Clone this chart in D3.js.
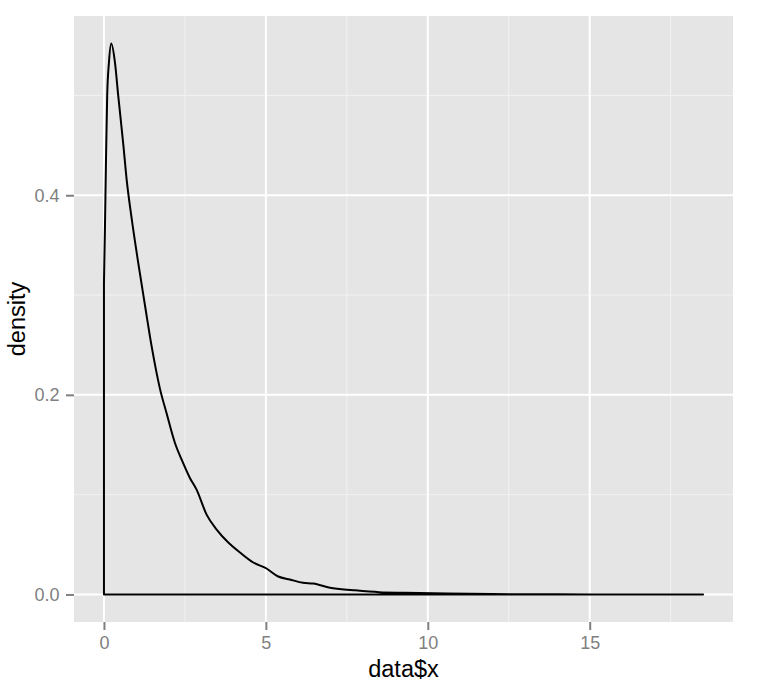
<!DOCTYPE html>
<html>
<head>
<meta charset="utf-8">
<script src="https://cdn.jsdelivr.net/npm/d3@7"></script>
<style>
  body { margin: 0; background: #fff; }
  svg text { font-family: "Liberation Sans", Arial, Helvetica, sans-serif; }
</style>
</head>
<body>
<div id="chart"></div>
<script>
// density estimate (x, density)
var densX = [0, 0.03, 0.062, 0.10, 0.154, 0.225, 0.34, 0.44, 0.6, 0.7, 0.85, 1.06, 1.27, 1.47,
  1.73, 1.93, 2.19, 2.4, 2.65, 2.86, 3.17, 3.48, 3.84, 4.2, 4.61, 5.02, 5.38, 5.74, 6.15, 6.46,
  6.98, 7.7, 8.5, 9.3, 10.6, 12, 14, 16, 18.5];
var densY = [0.312, 0.366, 0.433, 0.5, 0.533, 0.552, 0.533, 0.5, 0.45, 0.416, 0.378, 0.332, 0.289, 0.249,
  0.206, 0.182, 0.152, 0.135, 0.117, 0.105, 0.080, 0.065, 0.052, 0.042, 0.032, 0.026, 0.018, 0.015, 0.0117, 0.011,
  0.0067, 0.0043, 0.0023, 0.0017, 0.001, 0.0004, 0.0001, 0.00003, 0];

var xMajor = [0, 5, 10, 15];
var xMinor = [2.5, 7.5, 12.5, 17.5];
var yMajor = [0, 0.2, 0.4];
var yMinor = [0.1, 0.3, 0.5];

var W = 762, H = 688;
var margin = { left: 74, right: 29, top: 16, bottom: 66 };

var svg = d3.select('#chart').append('svg')
  .attr('width', W).attr('height', H);

var data = densX.map(function (x, i) { return { x: x, y: densY[i] }; });

// ggplot-style 5% expansion
var xExt = d3.extent(densX), yMax = d3.max(densY);
var xPad = (xExt[1] - xExt[0]) * 0.05, yPad = yMax * 0.05;

var x = d3.scaleLinear()
  .domain([xExt[0] - xPad, xExt[1] + xPad])
  .range([margin.left, W - margin.right]);
var y = d3.scaleLinear()
  .domain([0 - yPad, yMax + yPad])
  .range([H - margin.bottom, margin.top]);

var panel = svg.append('g');
panel.append('rect')
  .attr('x', margin.left).attr('y', margin.top)
  .attr('width', W - margin.left - margin.right)
  .attr('height', H - margin.top - margin.bottom)
  .attr('fill', '#e5e5e5');

function vlines(vals, col, w) {
  panel.selectAll(null).data(vals).enter().append('line')
    .attr('x1', function (d) { return x(d); }).attr('x2', function (d) { return x(d); })
    .attr('y1', margin.top).attr('y2', H - margin.bottom)
    .attr('stroke', col).attr('stroke-width', w);
}
function hlines(vals, col, w) {
  panel.selectAll(null).data(vals).enter().append('line')
    .attr('y1', function (d) { return y(d); }).attr('y2', function (d) { return y(d); })
    .attr('x1', margin.left).attr('x2', W - margin.right)
    .attr('stroke', col).attr('stroke-width', w);
}
vlines(xMinor, '#f2f2f2', 1);
hlines(yMinor, '#f2f2f2', 1);
vlines(xMajor, '#ffffff', 2);
hlines(yMajor, '#ffffff', 2);

// density outline (polygon, like geom_density)
var area = d3.area()
  .x(function (d) { return x(d.x); })
  .y0(y(0))
  .y1(function (d) { return y(d.y); })
  .curve(d3.curveMonotoneX);

svg.append('path')
  .datum(data)
  .attr('d', area)
  .attr('fill', 'none')
  .attr('stroke', '#000')
  .attr('stroke-width', 2)
  .attr('stroke-linejoin', 'round');

// axes
var xAxis = svg.append('g')
  .attr('transform', 'translate(0,' + (H - margin.bottom) + ')')
  .call(d3.axisBottom(x).tickValues(xMajor).tickSize(8).tickPadding(6).tickFormat(d3.format('d')));
var yAxis = svg.append('g')
  .attr('transform', 'translate(' + margin.left + ',0)')
  .call(d3.axisLeft(y).tickValues(yMajor).tickSize(8).tickPadding(6.5).tickFormat(d3.format('.1f')));

[xAxis, yAxis].forEach(function (g) {
  g.select('.domain').remove();
  g.selectAll('.tick line').attr('stroke', '#7f7f7f').attr('stroke-width', 2);
  g.selectAll('.tick text').attr('fill', '#7f7f7f').style('font-size', '18px');
});

svg.append('text')
  .attr('x', (margin.left + W - margin.right) / 2)
  .attr('y', 677)
  .attr('text-anchor', 'middle')
  .style('font-size', '23.5px')
  .text('data$x');

svg.append('text')
  .attr('transform', 'translate(25,' + ((margin.top + H - margin.bottom) / 2) + ') rotate(-90)')
  .attr('text-anchor', 'middle')
  .style('font-size', '23.5px')
  .text('density');
</script>
</body>
</html>
